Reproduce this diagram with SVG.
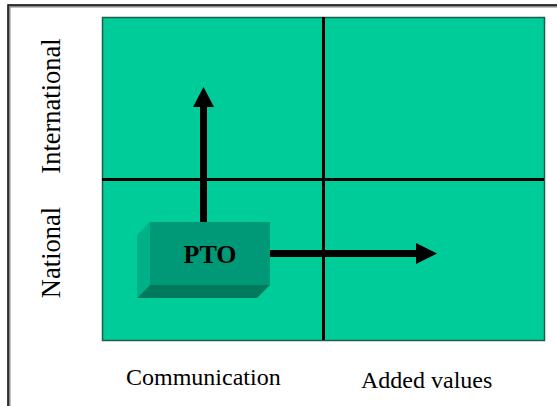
<svg xmlns="http://www.w3.org/2000/svg" width="557" height="406" viewBox="0 0 557 406">
  <defs>
    <style>
      .lbl { font-family: "Liberation Serif", "Times New Roman", serif; font-size: 24px; fill: #000; }
      .vlbl { font-size: 26.5px; }
      .grid { stroke: #000; stroke-width: 3; }
      .arrow { stroke: #000; stroke-width: 7; fill: none; }
      .head { fill: #000; }
    </style>
  </defs>
  <rect width="557" height="406" fill="#fff"/>
  <!-- outer frame (runs off the right and bottom edges) -->
  <g id="frame">
    <path d="M9 420 V6 H570" fill="none" stroke="#888" stroke-width="3"/>
    <path d="M8 420 V5 H570" fill="none" stroke="#111" stroke-width="1.5"/>
  </g>
  <!-- quadrant field -->
  <g id="field">
    <rect x="102.5" y="17.5" width="442" height="323" fill="#00cc99" stroke="#1f5e4a" stroke-width="1.5"/>
    <line class="grid" x1="323.5" y1="17" x2="323.5" y2="340"/>
    <line class="grid" x1="102" y1="179.5" x2="544" y2="179.5"/>
  </g>
  <!-- axis labels -->
  <g id="labels">
    <text class="lbl vlbl" text-anchor="middle" transform="translate(60,106) rotate(-90)">International</text>
    <text class="lbl vlbl" text-anchor="middle" transform="translate(60,252.5) rotate(-90)">National</text>
    <text class="lbl" x="126" y="385">Communication</text>
    <text class="lbl" x="361" y="388">Added values</text>
  </g>
  <!-- connectors -->
  <g id="connectors">
    <line class="arrow" x1="203.5" y1="223" x2="203.5" y2="105"/>
    <polygon class="head" points="193,107 214,107 203.5,87"/>
    <line class="arrow" x1="269" y1="253.5" x2="418" y2="253.5"/>
    <polygon class="head" points="416,243 416,264 437,253.5"/>
  </g>
  <!-- PTO block -->
  <g id="pto">
    <polygon points="137,235 150,222 150,285 137,298" fill="#00b088"/>
    <polygon points="137,298 150,285 270,285 257,298" fill="#007a5c"/>
    <rect x="150" y="222" width="120" height="63" fill="#009977"/>
    <text x="210" y="263" text-anchor="middle" font-family="Liberation Serif, Times New Roman, serif" font-size="26" font-weight="bold">PTO</text>
  </g>
</svg>
